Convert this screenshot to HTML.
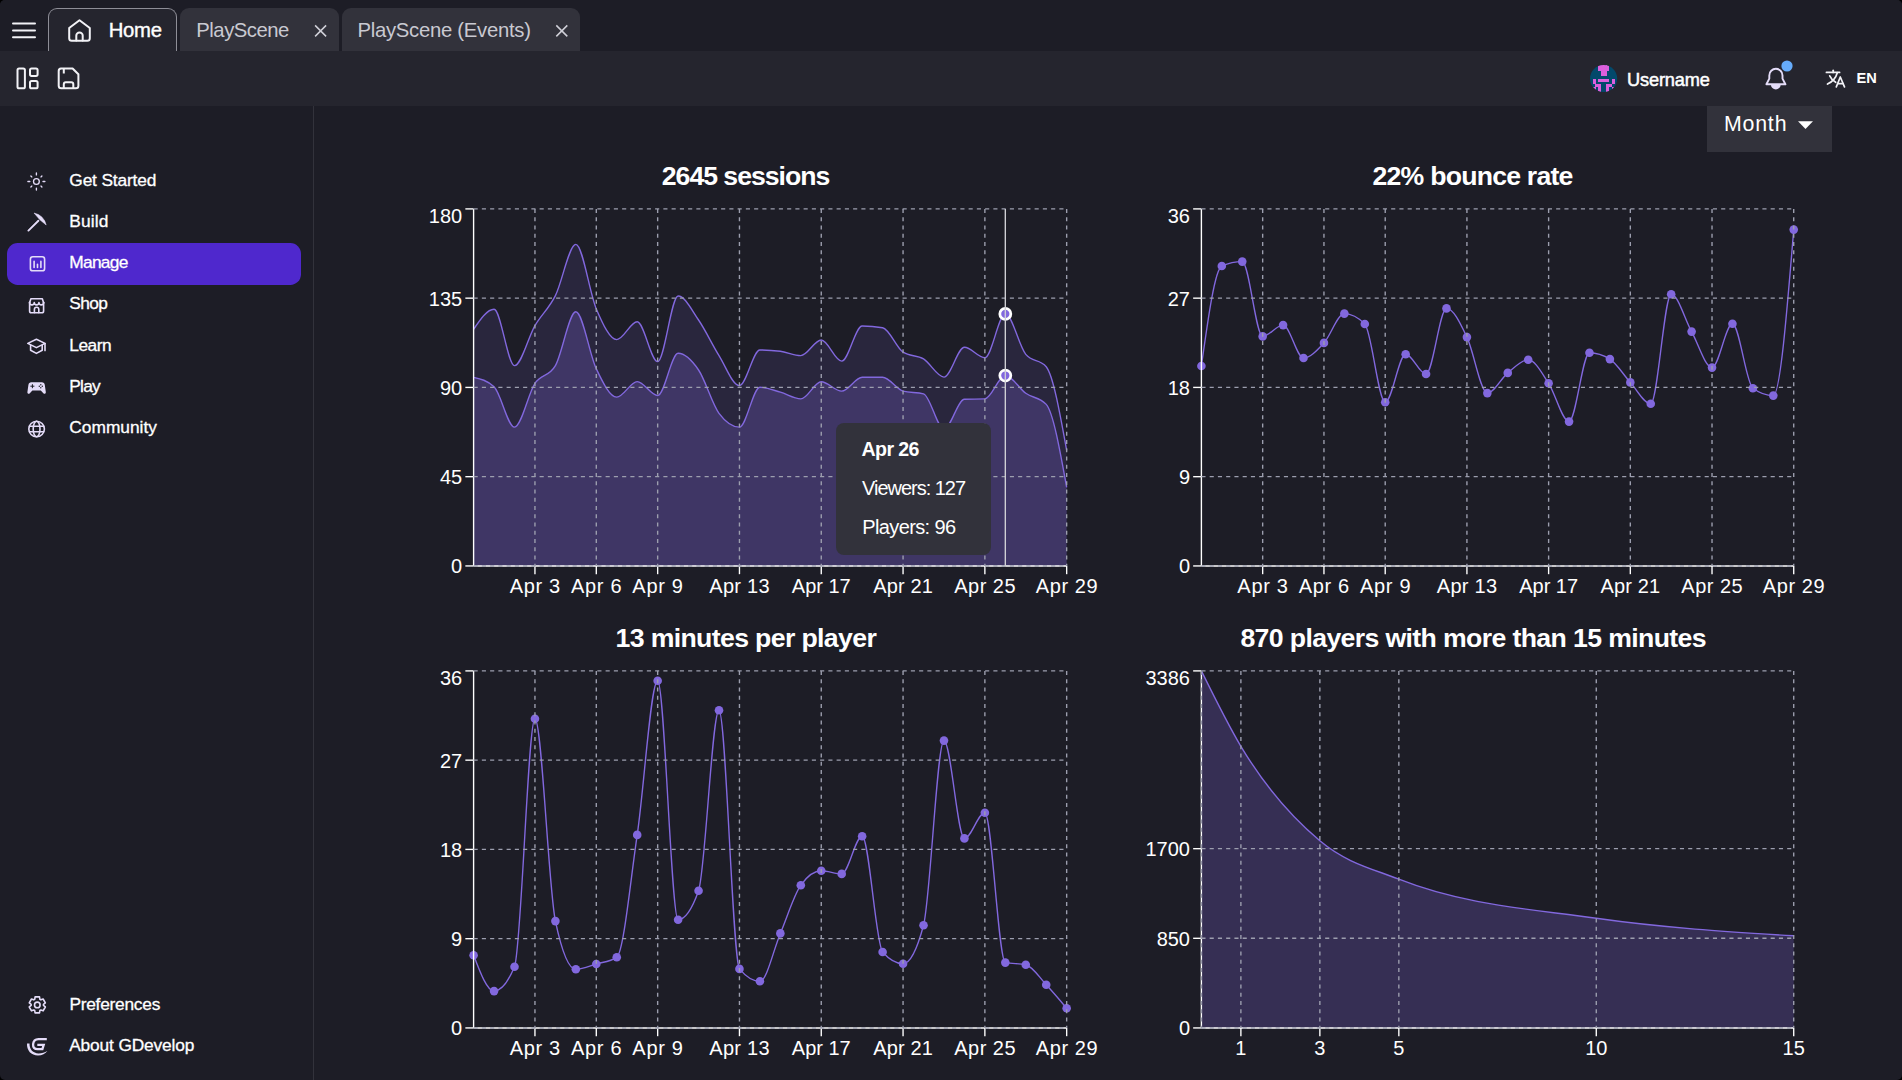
<!DOCTYPE html>
<html lang="en"><head><meta charset="utf-8"><title>GDevelop - Game analytics</title>
<style>
*{box-sizing:border-box}
html,body{margin:0;padding:0;background:#000}
body{width:1902px;height:1080px;overflow:hidden;position:relative;font-family:"Liberation Sans",sans-serif;color:#fff}
#app{position:absolute;left:0;top:0;width:1902px;height:1080px;background:#1D1D26;border-radius:5px;overflow:hidden}
.t{position:absolute;white-space:nowrap;line-height:1;display:block}
.tabbar{position:absolute;left:0;top:0;width:1902px;height:51px;background:#1D1D26}
.tab{position:absolute;top:8px;height:43px;background:#32323B;border-radius:9px 9px 0 0}
.tab.home{background:#25252E;border:1.3px solid #8e8e97;border-bottom:none}
.toolbar{position:absolute;left:0;top:50.7px;width:1902px;height:55.3px;background:#25252E}
.sidebar{position:absolute;left:0;top:106px;width:314.2px;height:974px;border-right:1.33px solid #32323B}
.item{position:absolute;left:7px;width:294px;height:41.7px;border-radius:10.7px}
.item.sel{background:#4F28CD}
.main{position:absolute;left:315px;top:106px;width:1587px;height:974px}
.select{position:absolute;left:1707px;top:106px;width:125px;height:46px;background:#32323B}
.tooltip{position:absolute;left:836px;top:423.3px;width:155px;height:131.7px;background:#32323B;border-radius:8px}
svg{position:absolute;left:0;top:0;overflow:visible}
svg text{font-family:"Liberation Sans",sans-serif}
h3{margin:0;font-weight:bold}
header,nav,aside{display:block}
</style></head>
<body>
<div id="app">

<header class="tabbar">
<div class="tab home" style="left:48px;width:128.8px"></div>
<div class="tab" style="left:180px;width:159px"></div>
<div class="tab" style="left:342px;width:238px"></div>
<span class="t" style="left:108.8px;top:20.02px;font-size:20.3px;letter-spacing:-0.32px;-webkit-text-stroke:0.4px #fff;">Home</span>
<span class="t" style="left:196.3px;top:20.02px;font-size:20.3px;letter-spacing:-0.49px;color:#C9C9D1;">PlayScene</span>
<span class="t" style="left:357.4px;top:20.02px;font-size:20.3px;letter-spacing:-0.27px;color:#C9C9D1;">PlayScene (Events)</span>
</header>
<div class="toolbar"></div>
<span class="t" style="left:1627px;top:71.19px;font-size:18.2px;letter-spacing:-0.14px;-webkit-text-stroke:0.5px #fff;">Username</span>
<span class="t" style="left:1856.6px;top:70.94px;font-size:14.6px;letter-spacing:-0.08px;font-weight:bold;">EN</span>
<aside class="sidebar"></aside>
<nav class="nav"><div class="item" style="top:160.4px"><span class="t" style="left:62.3px;top:11.13px;font-size:17.33px;letter-spacing:-0.15px;-webkit-text-stroke:0.3px #fff;">Get Started</span></div>
<div class="item" style="top:201.7px"><span class="t" style="left:62.3px;top:11.13px;font-size:17.33px;letter-spacing:0.16px;-webkit-text-stroke:0.3px #fff;">Build</span></div>
<div class="item sel" style="top:243px"><span class="t" style="left:62.3px;top:11.13px;font-size:17.33px;letter-spacing:-0.73px;-webkit-text-stroke:0.3px #fff;">Manage</span></div>
<div class="item" style="top:284.3px"><span class="t" style="left:62.3px;top:11.13px;font-size:17.33px;letter-spacing:-0.66px;-webkit-text-stroke:0.3px #fff;">Shop</span></div>
<div class="item" style="top:325.6px"><span class="t" style="left:62.3px;top:11.13px;font-size:17.33px;letter-spacing:-0.48px;-webkit-text-stroke:0.3px #fff;">Learn</span></div>
<div class="item" style="top:366.9px"><span class="t" style="left:62.3px;top:11.13px;font-size:17.33px;letter-spacing:-0.74px;-webkit-text-stroke:0.3px #fff;">Play</span></div>
<div class="item" style="top:408.2px"><span class="t" style="left:62.3px;top:11.13px;font-size:17.33px;letter-spacing:-0px;-webkit-text-stroke:0.3px #fff;">Community</span></div>
<div class="item" style="top:984px"><span class="t" style="left:62.4px;top:11.53px;font-size:17.33px;letter-spacing:-0.25px;-webkit-text-stroke:0.3px #fff;">Preferences</span></div>
<div class="item" style="top:1025.3px"><span class="t" style="left:62.2px;top:11.43px;font-size:17.33px;letter-spacing:-0.15px;-webkit-text-stroke:0.3px #fff;">About GDevelop</span></div></nav>
<div class="select"></div>
<span class="t" style="left:1723.9px;top:114.44px;font-size:21.33px;letter-spacing:0.83px;">Month</span>
<svg width="1902" height="1080" viewBox="0 0 1902 1080">
<path d="M473.6,329.3C480.42,319.3,487.23,309.3,494.05,309.3C500.87,309.3,507.68,365.6,514.5,365.6C521.32,365.6,528.14,337.27,534.95,325.6C541.77,313.93,548.59,309.13,555.4,295.6C562.22,282.07,569.04,244.4,575.85,244.4C582.67,244.4,589.49,293.03,596.3,308.9C603.12,324.77,609.94,339.6,616.75,339.6C623.57,339.6,630.39,321.8,637.21,321.8C644.02,321.8,650.84,361.6,657.66,361.6C664.47,361.6,671.29,296,678.11,296C684.92,296,691.74,310.07,698.56,320C705.37,329.93,712.19,344.67,719.01,355.6C725.83,366.53,732.64,385.6,739.46,385.6C746.28,385.6,753.09,350,759.91,350C766.73,350,773.54,350.43,780.36,351.3C787.18,352.17,793.99,355.6,800.81,355.6C807.63,355.6,814.44,340,821.26,340C828.08,340,834.9,361.1,841.71,361.1C848.53,361.1,855.35,326,862.16,326C868.98,326,875.8,326.6,882.61,327.8C889.43,329,896.25,347.73,903.06,352.2C909.88,356.67,916.7,354.75,923.52,358.9C930.33,363.05,937.15,377.1,943.97,377.1C950.78,377.1,957.6,347.3,964.42,347.3C971.23,347.3,978.05,357.8,984.87,357.8C991.68,357.8,998.5,313.9,1005.32,313.9C1012.13,313.9,1018.95,346.2,1025.77,354.4C1032.59,362.6,1039.4,358.5,1046.22,366.7C1053.04,374.9,1059.85,412.65,1066.67,450.4L1066.67,565.94L473.6,565.94Z" fill="#8268DE" fill-opacity="0.125"/>
<path d="M473.6,329.3C480.42,319.3,487.23,309.3,494.05,309.3C500.87,309.3,507.68,365.6,514.5,365.6C521.32,365.6,528.14,337.27,534.95,325.6C541.77,313.93,548.59,309.13,555.4,295.6C562.22,282.07,569.04,244.4,575.85,244.4C582.67,244.4,589.49,293.03,596.3,308.9C603.12,324.77,609.94,339.6,616.75,339.6C623.57,339.6,630.39,321.8,637.21,321.8C644.02,321.8,650.84,361.6,657.66,361.6C664.47,361.6,671.29,296,678.11,296C684.92,296,691.74,310.07,698.56,320C705.37,329.93,712.19,344.67,719.01,355.6C725.83,366.53,732.64,385.6,739.46,385.6C746.28,385.6,753.09,350,759.91,350C766.73,350,773.54,350.43,780.36,351.3C787.18,352.17,793.99,355.6,800.81,355.6C807.63,355.6,814.44,340,821.26,340C828.08,340,834.9,361.1,841.71,361.1C848.53,361.1,855.35,326,862.16,326C868.98,326,875.8,326.6,882.61,327.8C889.43,329,896.25,347.73,903.06,352.2C909.88,356.67,916.7,354.75,923.52,358.9C930.33,363.05,937.15,377.1,943.97,377.1C950.78,377.1,957.6,347.3,964.42,347.3C971.23,347.3,978.05,357.8,984.87,357.8C991.68,357.8,998.5,313.9,1005.32,313.9C1012.13,313.9,1018.95,346.2,1025.77,354.4C1032.59,362.6,1039.4,358.5,1046.22,366.7C1053.04,374.9,1059.85,412.65,1066.67,450.4" fill="none" stroke="#8268DE" stroke-width="1.38"/>
<path d="M473.6,377.3C480.42,378.87,487.23,380.43,494.05,386.7C500.87,392.97,507.68,427.1,514.5,427.1C521.32,427.1,528.14,393.55,534.95,383.3C541.77,373.05,548.59,377.4,555.4,365.6C562.22,353.8,569.04,311.8,575.85,311.8C582.67,311.8,589.49,354.68,596.3,368.9C603.12,383.12,609.94,397.1,616.75,397.1C623.57,397.1,630.39,381.6,637.21,381.6C644.02,381.6,650.84,395.6,657.66,395.6C664.47,395.6,671.29,353.3,678.11,353.3C684.92,353.3,691.74,360,698.56,370C705.37,380,712.19,404.1,719.01,413.3C725.83,422.5,732.64,427.1,739.46,427.1C746.28,427.1,753.09,387.2,759.91,387.2C766.73,387.2,773.54,390.25,780.36,392.2C787.18,394.15,793.99,398.9,800.81,398.9C807.63,398.9,814.44,381.8,821.26,381.8C828.08,381.8,834.9,391.1,841.71,391.1C848.53,391.1,855.35,377.3,862.16,377.3C868.98,377.3,875.8,377.3,882.61,377.3C889.43,377.3,896.25,389.3,903.06,391.1C909.88,392.9,916.7,392,923.52,393.8C930.33,395.6,937.15,429,943.97,429C950.78,429,957.6,399.57,964.42,399.3C971.23,399.03,978.05,399.17,984.87,398.9C991.68,398.63,998.5,375.5,1005.32,375.5C1012.13,375.5,1018.95,388.48,1025.77,393.3C1032.59,398.12,1039.4,397,1046.22,404.4C1053.04,411.8,1059.85,449.6,1066.67,487.4L1066.67,565.94L473.6,565.94Z" fill="#8268DE" fill-opacity="0.25"/>
<path d="M473.6,377.3C480.42,378.87,487.23,380.43,494.05,386.7C500.87,392.97,507.68,427.1,514.5,427.1C521.32,427.1,528.14,393.55,534.95,383.3C541.77,373.05,548.59,377.4,555.4,365.6C562.22,353.8,569.04,311.8,575.85,311.8C582.67,311.8,589.49,354.68,596.3,368.9C603.12,383.12,609.94,397.1,616.75,397.1C623.57,397.1,630.39,381.6,637.21,381.6C644.02,381.6,650.84,395.6,657.66,395.6C664.47,395.6,671.29,353.3,678.11,353.3C684.92,353.3,691.74,360,698.56,370C705.37,380,712.19,404.1,719.01,413.3C725.83,422.5,732.64,427.1,739.46,427.1C746.28,427.1,753.09,387.2,759.91,387.2C766.73,387.2,773.54,390.25,780.36,392.2C787.18,394.15,793.99,398.9,800.81,398.9C807.63,398.9,814.44,381.8,821.26,381.8C828.08,381.8,834.9,391.1,841.71,391.1C848.53,391.1,855.35,377.3,862.16,377.3C868.98,377.3,875.8,377.3,882.61,377.3C889.43,377.3,896.25,389.3,903.06,391.1C909.88,392.9,916.7,392,923.52,393.8C930.33,395.6,937.15,429,943.97,429C950.78,429,957.6,399.57,964.42,399.3C971.23,399.03,978.05,399.17,984.87,398.9C991.68,398.63,998.5,375.5,1005.32,375.5C1012.13,375.5,1018.95,388.48,1025.77,393.3C1032.59,398.12,1039.4,397,1046.22,404.4C1053.04,411.8,1059.85,449.6,1066.67,487.4" fill="none" stroke="#8268DE" stroke-width="1.38"/>
<g stroke="#ffffff" stroke-width="1.38" fill="none">
<path d="M473.6,565.94H1066.67"/>
<path d="M473.6,208.9V565.94"/>
<path d="M534.95,565.94v8.25"/>
<path d="M596.3,565.94v8.25"/>
<path d="M657.66,565.94v8.25"/>
<path d="M739.46,565.94v8.25"/>
<path d="M821.26,565.94v8.25"/>
<path d="M903.06,565.94v8.25"/>
<path d="M984.87,565.94v8.25"/>
<path d="M1066.67,565.94v8.25"/>
<path d="M473.6,208.9h-8.25"/>
<path d="M473.6,298.16h-8.25"/>
<path d="M473.6,387.42h-8.25"/>
<path d="M473.6,476.68h-8.25"/>
<path d="M473.6,565.94h-8.25"/>
</g>
<text x="509.65" y="592.54" font-size="20" letter-spacing="0.7" fill="#fff">Apr 3</text>
<text x="571" y="592.54" font-size="20" letter-spacing="0.7" fill="#fff">Apr 6</text>
<text x="632.36" y="592.54" font-size="20" letter-spacing="0.7" fill="#fff">Apr 9</text>
<text x="709.31" y="592.54" font-size="20" letter-spacing="0.28" fill="#fff">Apr 13</text>
<text x="791.86" y="592.54" font-size="20" letter-spacing="-0.02" fill="#fff">Apr 17</text>
<text x="873.36" y="592.54" font-size="20" letter-spacing="0.1" fill="#fff">Apr 21</text>
<text x="954.22" y="592.54" font-size="20" letter-spacing="0.48" fill="#fff">Apr 25</text>
<text x="1035.82" y="592.54" font-size="20" letter-spacing="0.56" fill="#fff">Apr 29</text>
<text x="428.84" y="222.8" font-size="20" fill="#fff">180</text>
<text x="428.84" y="305.66" font-size="20" fill="#fff">135</text>
<text x="439.96" y="394.92" font-size="20" fill="#fff">90</text>
<text x="439.96" y="484.18" font-size="20" fill="#fff">45</text>
<text x="451.08" y="573.44" font-size="20" fill="#fff">0</text>
<g stroke="#9C9EAE" stroke-width="1.38" stroke-dasharray="4.125 4.125" fill="none">
<path d="M473.6,208.9H1066.67"/>
<path d="M473.6,298.16H1066.67"/>
<path d="M473.6,387.42H1066.67"/>
<path d="M473.6,476.68H1066.67"/>
<path d="M473.6,565.94H1066.67"/>
<path d="M534.95,208.9V565.94"/>
<path d="M596.3,208.9V565.94"/>
<path d="M657.66,208.9V565.94"/>
<path d="M739.46,208.9V565.94"/>
<path d="M821.26,208.9V565.94"/>
<path d="M903.06,208.9V565.94"/>
<path d="M984.87,208.9V565.94"/>
<path d="M1066.67,208.9V565.94"/>
</g>
<circle cx="1005.32" cy="313.9" r="5.5" fill="#8268DE" stroke="#fff" stroke-width="2.75"/>
<circle cx="1005.32" cy="375.5" r="5.5" fill="#8268DE" stroke="#fff" stroke-width="2.75"/>
<path d="M1005.32,208.9V565.94" stroke="#cfcfd4" stroke-width="1.38"/>
<path d="M1201.4,366C1208.21,317.47,1215.02,268.93,1221.82,266C1228.63,263.07,1235.44,261.6,1242.25,261.6C1249.06,261.6,1255.87,336.4,1262.67,336.4C1269.48,336.4,1276.29,325.1,1283.1,325.1C1289.91,325.1,1296.72,358,1303.52,358C1310.33,358,1317.14,350.3,1323.95,342.9C1330.76,335.5,1337.57,313.6,1344.37,313.6C1351.18,313.6,1357.99,317.07,1364.8,324C1371.61,330.93,1378.42,402.2,1385.22,402.2C1392.03,402.2,1398.84,354.2,1405.65,354.2C1412.46,354.2,1419.26,374,1426.07,374C1432.88,374,1439.69,308.4,1446.5,308.4C1453.31,308.4,1460.11,322.98,1466.92,337.1C1473.73,351.22,1480.54,393.1,1487.35,393.1C1494.16,393.1,1500.96,378.45,1507.77,372.9C1514.58,367.35,1521.39,359.8,1528.2,359.8C1535.01,359.8,1541.81,373,1548.62,383.3C1555.43,393.6,1562.24,421.6,1569.05,421.6C1575.86,421.6,1582.66,352.7,1589.47,352.7C1596.28,352.7,1603.09,354.83,1609.9,359.1C1616.7,363.37,1623.51,374.95,1630.32,382.4C1637.13,389.85,1643.94,403.8,1650.75,403.8C1657.55,403.8,1664.36,294.2,1671.17,294.2C1677.98,294.2,1684.79,319.37,1691.6,331.6C1698.4,343.83,1705.21,367.6,1712.02,367.6C1718.83,367.6,1725.64,323.8,1732.45,323.8C1739.25,323.8,1746.06,383.27,1752.87,388.2C1759.68,393.13,1766.49,395.6,1773.3,395.6C1780.1,395.6,1786.91,312.6,1793.72,229.6" fill="none" stroke="#8268DE" stroke-width="1.38"/>
<g fill="#8268DE">
<circle cx="1201.4" cy="366" r="4.3"/>
<circle cx="1221.82" cy="266" r="4.3"/>
<circle cx="1242.25" cy="261.6" r="4.3"/>
<circle cx="1262.67" cy="336.4" r="4.3"/>
<circle cx="1283.1" cy="325.1" r="4.3"/>
<circle cx="1303.52" cy="358" r="4.3"/>
<circle cx="1323.95" cy="342.9" r="4.3"/>
<circle cx="1344.37" cy="313.6" r="4.3"/>
<circle cx="1364.8" cy="324" r="4.3"/>
<circle cx="1385.22" cy="402.2" r="4.3"/>
<circle cx="1405.65" cy="354.2" r="4.3"/>
<circle cx="1426.07" cy="374" r="4.3"/>
<circle cx="1446.5" cy="308.4" r="4.3"/>
<circle cx="1466.92" cy="337.1" r="4.3"/>
<circle cx="1487.35" cy="393.1" r="4.3"/>
<circle cx="1507.77" cy="372.9" r="4.3"/>
<circle cx="1528.2" cy="359.8" r="4.3"/>
<circle cx="1548.62" cy="383.3" r="4.3"/>
<circle cx="1569.05" cy="421.6" r="4.3"/>
<circle cx="1589.47" cy="352.7" r="4.3"/>
<circle cx="1609.9" cy="359.1" r="4.3"/>
<circle cx="1630.32" cy="382.4" r="4.3"/>
<circle cx="1650.75" cy="403.8" r="4.3"/>
<circle cx="1671.17" cy="294.2" r="4.3"/>
<circle cx="1691.6" cy="331.6" r="4.3"/>
<circle cx="1712.02" cy="367.6" r="4.3"/>
<circle cx="1732.45" cy="323.8" r="4.3"/>
<circle cx="1752.87" cy="388.2" r="4.3"/>
<circle cx="1773.3" cy="395.6" r="4.3"/>
<circle cx="1793.72" cy="229.6" r="4.3"/>
</g>
<g stroke="#ffffff" stroke-width="1.38" fill="none">
<path d="M1201.4,565.94H1793.72"/>
<path d="M1201.4,208.9V565.94"/>
<path d="M1262.67,565.94v8.25"/>
<path d="M1323.95,565.94v8.25"/>
<path d="M1385.22,565.94v8.25"/>
<path d="M1466.92,565.94v8.25"/>
<path d="M1548.62,565.94v8.25"/>
<path d="M1630.32,565.94v8.25"/>
<path d="M1712.02,565.94v8.25"/>
<path d="M1793.72,565.94v8.25"/>
<path d="M1201.4,208.9h-8.25"/>
<path d="M1201.4,298.16h-8.25"/>
<path d="M1201.4,387.42h-8.25"/>
<path d="M1201.4,476.68h-8.25"/>
<path d="M1201.4,565.94h-8.25"/>
</g>
<text x="1237.37" y="592.54" font-size="20" letter-spacing="0.7" fill="#fff">Apr 3</text>
<text x="1298.65" y="592.54" font-size="20" letter-spacing="0.7" fill="#fff">Apr 6</text>
<text x="1359.92" y="592.54" font-size="20" letter-spacing="0.7" fill="#fff">Apr 9</text>
<text x="1436.77" y="592.54" font-size="20" letter-spacing="0.28" fill="#fff">Apr 13</text>
<text x="1519.22" y="592.54" font-size="20" letter-spacing="-0.02" fill="#fff">Apr 17</text>
<text x="1600.62" y="592.54" font-size="20" letter-spacing="0.1" fill="#fff">Apr 21</text>
<text x="1681.37" y="592.54" font-size="20" letter-spacing="0.48" fill="#fff">Apr 25</text>
<text x="1762.87" y="592.54" font-size="20" letter-spacing="0.56" fill="#fff">Apr 29</text>
<text x="1167.76" y="222.8" font-size="20" fill="#fff">36</text>
<text x="1167.76" y="305.66" font-size="20" fill="#fff">27</text>
<text x="1167.76" y="394.92" font-size="20" fill="#fff">18</text>
<text x="1178.88" y="484.18" font-size="20" fill="#fff">9</text>
<text x="1178.88" y="573.44" font-size="20" fill="#fff">0</text>
<g stroke="#9C9EAE" stroke-width="1.38" stroke-dasharray="4.125 4.125" fill="none">
<path d="M1201.4,208.9H1793.72"/>
<path d="M1201.4,298.16H1793.72"/>
<path d="M1201.4,387.42H1793.72"/>
<path d="M1201.4,476.68H1793.72"/>
<path d="M1201.4,565.94H1793.72"/>
<path d="M1262.67,208.9V565.94"/>
<path d="M1323.95,208.9V565.94"/>
<path d="M1385.22,208.9V565.94"/>
<path d="M1466.92,208.9V565.94"/>
<path d="M1548.62,208.9V565.94"/>
<path d="M1630.32,208.9V565.94"/>
<path d="M1712.02,208.9V565.94"/>
<path d="M1793.72,208.9V565.94"/>
</g>
<path d="M473.6,955.2C480.42,973.15,487.23,991.1,494.05,991.1C500.87,991.1,507.68,983,514.5,966.8C521.32,950.6,528.14,718.8,534.95,718.8C541.77,718.8,548.59,888.97,555.4,921.1C562.22,953.23,569.04,969.3,575.85,969.3C582.67,969.3,589.49,966,596.3,964C603.12,962,609.94,961.77,616.75,957.3C623.57,952.83,630.39,880.98,637.21,834.9C644.02,788.82,650.84,680.8,657.66,680.8C664.47,680.8,671.29,919.7,678.11,919.7C684.92,919.7,691.74,910.07,698.56,890.8C705.37,871.53,712.19,710.3,719.01,710.3C725.83,710.3,732.64,960.63,739.46,968.9C746.28,977.17,753.09,981.3,759.91,981.3C766.73,981.3,773.54,949.42,780.36,933.4C787.18,917.38,793.99,894.8,800.81,885.2C807.63,875.6,814.44,870.8,821.26,870.8C828.08,870.8,834.9,873.9,841.71,873.9C848.53,873.9,855.35,836.3,862.16,836.3C868.98,836.3,875.8,944.2,882.61,952C889.43,959.8,896.25,963.7,903.06,963.7C909.88,963.7,916.7,950.9,923.52,925.3C930.33,899.7,937.15,740.6,943.97,740.6C950.78,740.6,957.6,838.4,964.42,838.4C971.23,838.4,978.05,812.7,984.87,812.7C991.68,812.7,998.5,961.2,1005.32,962.6C1012.13,964,1018.95,963.3,1025.77,964.7C1032.59,966.1,1039.4,977.53,1046.22,984.8C1053.04,992.07,1059.85,1000.18,1066.67,1008.3" fill="none" stroke="#8268DE" stroke-width="1.38"/>
<g fill="#8268DE">
<circle cx="473.6" cy="955.2" r="4.3"/>
<circle cx="494.05" cy="991.1" r="4.3"/>
<circle cx="514.5" cy="966.8" r="4.3"/>
<circle cx="534.95" cy="718.8" r="4.3"/>
<circle cx="555.4" cy="921.1" r="4.3"/>
<circle cx="575.85" cy="969.3" r="4.3"/>
<circle cx="596.3" cy="964" r="4.3"/>
<circle cx="616.75" cy="957.3" r="4.3"/>
<circle cx="637.21" cy="834.9" r="4.3"/>
<circle cx="657.66" cy="680.8" r="4.3"/>
<circle cx="678.11" cy="919.7" r="4.3"/>
<circle cx="698.56" cy="890.8" r="4.3"/>
<circle cx="719.01" cy="710.3" r="4.3"/>
<circle cx="739.46" cy="968.9" r="4.3"/>
<circle cx="759.91" cy="981.3" r="4.3"/>
<circle cx="780.36" cy="933.4" r="4.3"/>
<circle cx="800.81" cy="885.2" r="4.3"/>
<circle cx="821.26" cy="870.8" r="4.3"/>
<circle cx="841.71" cy="873.9" r="4.3"/>
<circle cx="862.16" cy="836.3" r="4.3"/>
<circle cx="882.61" cy="952" r="4.3"/>
<circle cx="903.06" cy="963.7" r="4.3"/>
<circle cx="923.52" cy="925.3" r="4.3"/>
<circle cx="943.97" cy="740.6" r="4.3"/>
<circle cx="964.42" cy="838.4" r="4.3"/>
<circle cx="984.87" cy="812.7" r="4.3"/>
<circle cx="1005.32" cy="962.6" r="4.3"/>
<circle cx="1025.77" cy="964.7" r="4.3"/>
<circle cx="1046.22" cy="984.8" r="4.3"/>
<circle cx="1066.67" cy="1008.3" r="4.3"/>
</g>
<g stroke="#ffffff" stroke-width="1.38" fill="none">
<path d="M473.6,1027.94H1066.67"/>
<path d="M473.6,670.9V1027.94"/>
<path d="M534.95,1027.94v8.25"/>
<path d="M596.3,1027.94v8.25"/>
<path d="M657.66,1027.94v8.25"/>
<path d="M739.46,1027.94v8.25"/>
<path d="M821.26,1027.94v8.25"/>
<path d="M903.06,1027.94v8.25"/>
<path d="M984.87,1027.94v8.25"/>
<path d="M1066.67,1027.94v8.25"/>
<path d="M473.6,670.9h-8.25"/>
<path d="M473.6,760.16h-8.25"/>
<path d="M473.6,849.42h-8.25"/>
<path d="M473.6,938.68h-8.25"/>
<path d="M473.6,1027.94h-8.25"/>
</g>
<text x="509.65" y="1054.54" font-size="20" letter-spacing="0.7" fill="#fff">Apr 3</text>
<text x="571" y="1054.54" font-size="20" letter-spacing="0.7" fill="#fff">Apr 6</text>
<text x="632.36" y="1054.54" font-size="20" letter-spacing="0.7" fill="#fff">Apr 9</text>
<text x="709.31" y="1054.54" font-size="20" letter-spacing="0.28" fill="#fff">Apr 13</text>
<text x="791.86" y="1054.54" font-size="20" letter-spacing="-0.02" fill="#fff">Apr 17</text>
<text x="873.36" y="1054.54" font-size="20" letter-spacing="0.1" fill="#fff">Apr 21</text>
<text x="954.22" y="1054.54" font-size="20" letter-spacing="0.48" fill="#fff">Apr 25</text>
<text x="1035.82" y="1054.54" font-size="20" letter-spacing="0.56" fill="#fff">Apr 29</text>
<text x="439.96" y="684.8" font-size="20" fill="#fff">36</text>
<text x="439.96" y="767.66" font-size="20" fill="#fff">27</text>
<text x="439.96" y="856.92" font-size="20" fill="#fff">18</text>
<text x="451.08" y="946.18" font-size="20" fill="#fff">9</text>
<text x="451.08" y="1035.44" font-size="20" fill="#fff">0</text>
<g stroke="#9C9EAE" stroke-width="1.38" stroke-dasharray="4.125 4.125" fill="none">
<path d="M473.6,670.9H1066.67"/>
<path d="M473.6,760.16H1066.67"/>
<path d="M473.6,849.42H1066.67"/>
<path d="M473.6,938.68H1066.67"/>
<path d="M473.6,1027.94H1066.67"/>
<path d="M534.95,670.9V1027.94"/>
<path d="M596.3,670.9V1027.94"/>
<path d="M657.66,670.9V1027.94"/>
<path d="M739.46,670.9V1027.94"/>
<path d="M821.26,670.9V1027.94"/>
<path d="M903.06,670.9V1027.94"/>
<path d="M984.87,670.9V1027.94"/>
<path d="M1066.67,670.9V1027.94"/>
</g>
<path d="M1201.4,670.9C1214.56,697.6,1227.73,724.29,1240.89,746.3C1267.21,790.31,1293.54,818.65,1319.86,840.8C1346.19,862.95,1372.51,868.77,1398.84,879.2C1464.65,905.27,1530.47,908.87,1596.28,918.3C1662.09,927.73,1727.91,931.77,1793.72,935.8L1793.72,1027.94L1201.4,1027.94Z" fill="#8268DE" fill-opacity="0.25"/>
<path d="M1201.4,670.9C1214.56,697.6,1227.73,724.29,1240.89,746.3C1267.21,790.31,1293.54,818.65,1319.86,840.8C1346.19,862.95,1372.51,868.77,1398.84,879.2C1464.65,905.27,1530.47,908.87,1596.28,918.3C1662.09,927.73,1727.91,931.77,1793.72,935.8" fill="none" stroke="#8268DE" stroke-width="1.38"/>
<g stroke="#ffffff" stroke-width="1.38" fill="none">
<path d="M1201.4,1027.94H1793.72"/>
<path d="M1201.4,670.9V1027.94"/>
<path d="M1240.89,1027.94v8.25"/>
<path d="M1319.86,1027.94v8.25"/>
<path d="M1398.84,1027.94v8.25"/>
<path d="M1596.28,1027.94v8.25"/>
<path d="M1793.72,1027.94v8.25"/>
<path d="M1201.4,670.9h-8.25"/>
<path d="M1201.4,848.68h-8.25"/>
<path d="M1201.4,938.31h-8.25"/>
<path d="M1201.4,1027.94h-8.25"/>
</g>
<text x="1235.33" y="1054.54" font-size="20" fill="#fff">1</text>
<text x="1314.3" y="1054.54" font-size="20" fill="#fff">3</text>
<text x="1393.28" y="1054.54" font-size="20" fill="#fff">5</text>
<text x="1585.16" y="1054.54" font-size="20" fill="#fff">10</text>
<text x="1782.6" y="1054.54" font-size="20" fill="#fff">15</text>
<text x="1145.5" y="684.8" font-size="20" fill="#fff">3386</text>
<text x="1145.5" y="856.18" font-size="20" fill="#fff">1700</text>
<text x="1156.64" y="945.81" font-size="20" fill="#fff">850</text>
<text x="1178.88" y="1035.44" font-size="20" fill="#fff">0</text>
<g stroke="#9C9EAE" stroke-width="1.38" stroke-dasharray="4.125 4.125" fill="none">
<path d="M1201.4,670.9H1793.72"/>
<path d="M1201.4,848.68H1793.72"/>
<path d="M1201.4,938.31H1793.72"/>
<path d="M1201.4,1027.94H1793.72"/>
<path d="M1201.4,670.9V1027.94"/>
<path d="M1240.89,670.9V1027.94"/>
<path d="M1319.86,670.9V1027.94"/>
<path d="M1398.84,670.9V1027.94"/>
<path d="M1596.28,670.9V1027.94"/>
<path d="M1793.72,670.9V1027.94"/>
</g>
<g stroke="#F2F2F6" stroke-width="2" stroke-linecap="round"><path d="M13,23.6H35"/><path d="M13,30.4H35"/><path d="M13,37.3H35"/></g>
<g fill="none" stroke="#F2F2F6" stroke-width="2" stroke-linejoin="round" stroke-linecap="round"><path d="M79.5,20.2L89.8,28V38.3Q89.8,40.8,87.3,40.8H71.7Q69.2,40.8,69.2,38.3V28Z"/><path d="M76.3,40.5V35.6A3.2,3.2,0,0,1,82.7,35.6V40.5"/></g>
<path d="M315.1,25.4l11,11m0,-11l-11,11" stroke="#D0D0D8" stroke-width="1.5" fill="none"/>
<path d="M556.3,25.4l11,11m0,-11l-11,11" stroke="#D0D0D8" stroke-width="1.5" fill="none"/>
<g fill="none" stroke="#F2F2F6" stroke-width="2"><rect x="17.5" y="68.5" width="7.4" height="19.8" rx="1.6"/><rect x="30" y="68.5" width="7.6" height="7.4" rx="1.6"/><rect x="30" y="80.9" width="7.6" height="7.4" rx="1.6"/></g>
<g fill="none" stroke="#F2F2F6" stroke-width="2" stroke-linejoin="round"><path d="M61,68.5H72.6L78.4,74.3V85.8Q78.4,88.3,75.9,88.3H61.2Q58.7,88.3,58.7,85.8V71Q58.7,68.5,61,68.5Z"/><path d="M63.8,68.8V73.6"/><path d="M63.8,88V84.2Q63.8,82.2,65.8,82.2H71.3Q73.3,82.2,73.3,84.2V88"/></g>
<clipPath id="av"><circle cx="1603.6" cy="78.5" r="13.6"/></clipPath><g clip-path="url(#av)"><rect x="1589" y="64" width="30" height="30" fill="#03496B"/><g shape-rendering="crispEdges"><rect x="1598.16" y="64.9" width="3.12" height="3.12" fill="#DC5FDC"/><rect x="1600.88" y="64.9" width="3.12" height="3.12" fill="#DC5FDC"/><rect x="1603.6" y="64.9" width="3.12" height="3.12" fill="#DC5FDC"/><rect x="1606.32" y="64.9" width="3.12" height="3.12" fill="#DC5FDC"/><rect x="1598.16" y="67.62" width="3.12" height="3.12" fill="#DC5FDC"/><rect x="1600.88" y="67.62" width="3.12" height="3.12" fill="#DC5FDC"/><rect x="1603.6" y="67.62" width="3.12" height="3.12" fill="#DC5FDC"/><rect x="1606.32" y="67.62" width="3.12" height="3.12" fill="#DC5FDC"/><rect x="1600.88" y="70.34" width="3.12" height="3.12" fill="#DC5FDC"/><rect x="1603.6" y="70.34" width="3.12" height="3.12" fill="#DC5FDC"/><rect x="1600.88" y="73.06" width="3.12" height="3.12" fill="#DC5FDC"/><rect x="1603.6" y="73.06" width="3.12" height="3.12" fill="#DC5FDC"/><rect x="1592.72" y="78.5" width="3.12" height="3.12" fill="#DC5FDC"/><rect x="1598.16" y="78.5" width="3.12" height="3.12" fill="#DC5FDC"/><rect x="1600.88" y="78.5" width="3.12" height="3.12" fill="#DC5FDC"/><rect x="1603.6" y="78.5" width="3.12" height="3.12" fill="#DC5FDC"/><rect x="1606.32" y="78.5" width="3.12" height="3.12" fill="#DC5FDC"/><rect x="1611.76" y="78.5" width="3.12" height="3.12" fill="#DC5FDC"/><rect x="1592.72" y="81.22" width="3.12" height="3.12" fill="#DC5FDC"/><rect x="1611.76" y="81.22" width="3.12" height="3.12" fill="#DC5FDC"/><rect x="1595.44" y="83.94" width="3.12" height="3.12" fill="#DC5FDC"/><rect x="1598.16" y="83.94" width="3.12" height="3.12" fill="#DC5FDC"/><rect x="1606.32" y="83.94" width="3.12" height="3.12" fill="#DC5FDC"/><rect x="1609.04" y="83.94" width="3.12" height="3.12" fill="#DC5FDC"/><rect x="1592.72" y="86.66" width="3.12" height="3.12" fill="#DC5FDC"/><rect x="1598.16" y="86.66" width="3.12" height="3.12" fill="#DC5FDC"/><rect x="1606.32" y="86.66" width="3.12" height="3.12" fill="#DC5FDC"/><rect x="1611.76" y="86.66" width="3.12" height="3.12" fill="#DC5FDC"/><rect x="1598.16" y="89.38" width="3.12" height="3.12" fill="#DC5FDC"/><rect x="1606.32" y="89.38" width="3.12" height="3.12" fill="#DC5FDC"/></g></g>
<path d="M1766.4,84.3L1769.3,78.6V75.4A6.6,6.6,0,0,1,1782.5,75.4V78.6L1785.4,84.3Z" fill="none" stroke="#E4DCF8" stroke-width="1.9" stroke-linejoin="round"/>
<path d="M1771,85A4.7,4.3,0,0,0,1780.6,85Z" fill="#E4DCF8"/>
<circle cx="1787" cy="66" r="5.6" fill="#66ACFB"/>
<g fill="none" stroke="#F2F2F6" stroke-width="1.7" stroke-linecap="round" stroke-linejoin="round"><path d="M1826.4,72.4H1839.6"/><path d="M1833.2,70.3V72.4"/><path d="M1837.3,72.7C1836,77.6,1832.2,81.8,1827.5,84.1"/><path d="M1829.7,75.9C1830.8,78.4,1833,80.8,1835.7,82.3"/><path d="M1836.3,86.9L1840.3,77L1844.5,86.9"/><path d="M1837.7,83.7H1843"/></g>
<path d="M1798,121.3h15l-7.5,7.6z" fill="#fff"/>
<g fill="none" stroke="#E4DCF8" stroke-width="1.35" stroke-linecap="round"><circle cx="36.4" cy="181.5" r="2.9"/><path d="M36.4,173v1.9M36.4,188.1v1.9M27.9,181.5h1.9M43,181.5h1.9M30.9,176l.9,.9M41,186.1l.9,.9M30.9,187l.9,-.9M41,176.9l.9,-.9"/></g>
<path d="M28.4,230.6L38.4,220.7" stroke="#E4DCF8" stroke-width="1.9" stroke-linecap="round" fill="none"/>
<path d="M34,213Q43.8,215.2,46.2,225Q39.2,220,34,213Z" fill="#E4DCF8" stroke="#E4DCF8" stroke-width=".5" stroke-linejoin="round"/>
<g fill="none" stroke="#E4DCF8" stroke-width="1.6" stroke-linecap="round" stroke-linejoin="round"><rect x="30.4" y="256.8" width="14.2" height="14" rx="2.4"/><path d="M34.1,261.2v6.2M37.5,264.2v3.2M40.9,261.2v6.2"/></g>
<g fill="none" stroke="#E4DCF8" stroke-width="1.6" stroke-linecap="round" stroke-linejoin="round"><path d="M29.6,302.2V311Q29.6,312.8,31.4,312.8H41.8Q43.6,312.8,43.6,311V302.2"/><path d="M29.6,302.8L30.9,298.8H42.3L43.6,302.8"/><path d="M29.6,302.6a2.33,2.3,0,0,0,4.67,0a2.33,2.3,0,0,0,4.67,0a2.33,2.3,0,0,0,4.67,0"/><path d="M34.4,312.6V309.4A2.2,2.2,0,0,1,38.8,309.4V312.6"/></g>
<g fill="none" stroke="#E4DCF8" stroke-width="1.6" stroke-linecap="round" stroke-linejoin="round"><path d="M27.8,343.4L36.4,339.2L45,343.4L36.4,347.6Z"/><path d="M30.6,345.2V350.2L36.4,353.4L42.2,350.2V345.2"/><path d="M45,343.6V350.6"/></g>
<path d="M31.4,382.2H41.8C43.6,382.2,44.5,383.2,44.8,385L45.8,392C46,393.6,44.6,394.4,43.6,393.4L40.8,390.6H32.4L29.6,393.4C28.6,394.4,27.2,393.6,27.4,392L28.4,385C28.7,383.2,29.6,382.2,31.4,382.2Z" fill="#E4DCF8"/>
<path d="M32.4,384.2v4M30.4,386.2h4" stroke="#1D1D26" stroke-width="1" fill="none"/><circle cx="40.8" cy="384.8" r=".7" fill="#1D1D26"/><circle cx="40.8" cy="387.8" r=".7" fill="#1D1D26"/><circle cx="39.3" cy="386.3" r=".7" fill="#1D1D26"/><circle cx="42.3" cy="386.3" r=".7" fill="#1D1D26"/>
<g fill="none" stroke="#E4DCF8" stroke-width="1.6" stroke-linecap="round" stroke-linejoin="round"><circle cx="36.6" cy="429" r="7.8"/><ellipse cx="36.6" cy="429" rx="3.4" ry="7.8"/><path d="M29.6,426.2H43.6M29.6,431.8H43.6"/></g>
<g fill="none" stroke="#E4DCF8" stroke-width="1.6" stroke-linecap="round" stroke-linejoin="round"><path d="M35.09,996.9L39.51,996.9L39.88,999.26L40.89,999.84L43.12,998.98L45.33,1002.82L43.47,1004.32L43.47,1005.48L45.33,1006.98L43.12,1010.82L40.89,1009.96L39.88,1010.54L39.51,1012.9L35.09,1012.9L34.72,1010.54L33.71,1009.96L31.48,1010.82L29.27,1006.98L31.13,1005.48L31.13,1004.32L29.27,1002.82L31.48,998.98L33.71,999.84L34.72,999.26Z"/><circle cx="37.3" cy="1004.9" r="2.8"/></g>
<path d="M46.8,1039.2H38.5Q33.6,1039.2,33.1,1044.2Q32.8,1049.1,37.6,1049.1H42.4L43.7,1044.9H37.3" fill="none" stroke="#E4DCF8" stroke-width="2.3"/>
<path d="M27,1043.6C26.6,1050.6,31.2,1055.6,38,1055.6C42,1055.6,45.4,1053.8,47.5,1050.8C44.8,1052.6,41.8,1053.4,38.6,1053.4C33,1053.4,29.4,1049.6,29.5,1043.6Z" fill="#E4DCF8"/>
</svg>
<h3 class="t" style="left:661.8px;top:163.22px;font-size:26.67px;letter-spacing:-1.03px;font-weight:bold;">2645 sessions</h3>
<h3 class="t" style="left:1372.5px;top:163.22px;font-size:26.67px;letter-spacing:-0.78px;font-weight:bold;">22% bounce rate</h3>
<h3 class="t" style="left:615.5px;top:625.22px;font-size:26.67px;letter-spacing:-0.64px;font-weight:bold;">13 minutes per player</h3>
<h3 class="t" style="left:1240.4px;top:625.22px;font-size:26.67px;letter-spacing:-0.63px;font-weight:bold;">870 players with more than 15 minutes</h3>
<div class="tooltip"></div>
<span class="t" style="left:861.6px;top:439.91px;font-size:19.6px;letter-spacing:-0.64px;font-weight:bold;">Apr 26</span>
<span class="t" style="left:862px;top:478.47px;font-size:20px;letter-spacing:-1.02px;">Viewers: 127</span>
<span class="t" style="left:862.3px;top:516.67px;font-size:20px;letter-spacing:-0.63px;">Players: 96</span>
</div>
</body></html>
